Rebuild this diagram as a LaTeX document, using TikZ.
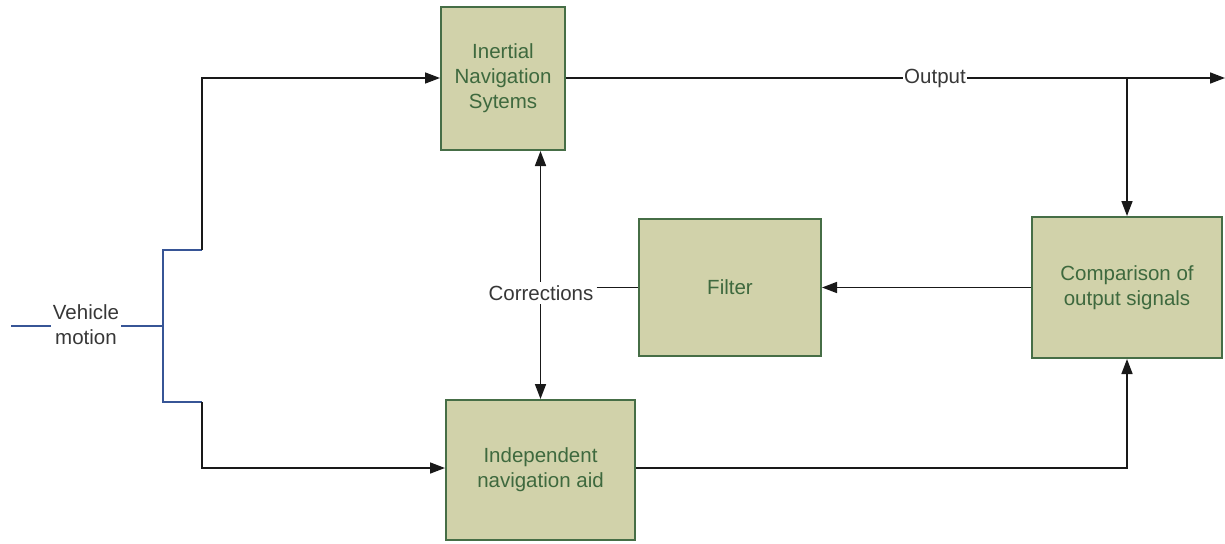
\documentclass[tikz,border=0pt]{standalone}
\usepackage{fontspec}
\setmainfont{Liberation Sans}
\usetikzlibrary{arrows.meta}
\definecolor{boxfill}{RGB}{209,210,170}
\definecolor{boxline}{RGB}{70,110,70}
\definecolor{boxtext}{RGB}{62,105,62}
\definecolor{labtext}{RGB}{55,55,55}
\definecolor{wire}{RGB}{25,25,25}
\definecolor{bluewire}{RGB}{55,85,150}
\tikzset{
  blockbox/.style={draw=boxline, line width=2pt, fill=boxfill, text=boxtext, align=center, inner sep=0pt,
    font=\fontsize{20.5}{25}\selectfont},
  lab/.style={text=labtext, align=center, fill=white, inner sep=2pt, font=\fontsize{20.5}{25}\selectfont},
  conn/.style={draw=wire, line width=1.6pt},
  arr/.style={conn, -{Triangle[length=15pt,width=11pt]}},
  darr/.style={conn, {Triangle[length=15pt,width=11pt]}-{Triangle[length=15pt,width=11pt]}},
  bconn/.style={draw=bluewire, line width=1.6pt},
}
\begin{document}
\begin{tikzpicture}[x=1pt,y=-1pt]
\useasboundingbox (0,0) rectangle (1225,543);
% blocks
\node[blockbox, minimum width=124pt, minimum height=143pt] (ins) at (503,78.5) {Inertial\\Navigation\\Sytems};
\node[blockbox, minimum width=182pt, minimum height=137pt] (filter) at (730,287.5) {Filter};
\node[blockbox, minimum width=190pt, minimum height=141pt] (comp) at (1127,287.5) {Comparison of\\output signals};
\node[blockbox, minimum width=189pt, minimum height=140pt] (indep) at (540.5,470) {Independent\\navigation aid};
% coordinates
\coordinate (vmL) at (11,326);
\coordinate (split) at (163,326);
\coordinate (bt) at (163,250);
\coordinate (bb) at (163,402);
\coordinate (kt) at (202,250);
\coordinate (kb) at (202,402);
\coordinate (outEnd) at (1225,78);
\coordinate (branch) at (1127,78);
\coordinate (ret) at (1127,468);
% vehicle motion
\node[lab, fill=none] (vm) at (86,325) {Vehicle\\motion};
\draw[bconn] (vmL) -- (vm.west |- vmL);
\draw[bconn] (vm.east |- split) -- (split);
\draw[bconn] (kt) -- (bt) -- (bb) -- (kb);
\draw[arr] (kt) |- (ins.west |- 0,78);
\draw[arr] (kb) |- (indep.west |- 0,468);
% output
\draw[arr] (ins.east |- outEnd) -- (outEnd);
\node[lab, inner sep=1pt] (out) at (935,78) {Output};
\draw[arr] (branch) -- (comp.north);
% corrections
\draw[darr] (ins.south -| indep.north) -- (indep.north);
\node[lab, inner sep=3pt] (corr) at (541,293) {Corrections};
\draw[conn] (corr.east |- filter.west) -- (filter.west);
\draw[arr] (comp.west) -- (filter.east);
% return from independent aid
\draw[arr] (indep.east |- ret) -- (ret) -- (comp.south);
\end{tikzpicture}
\end{document}
